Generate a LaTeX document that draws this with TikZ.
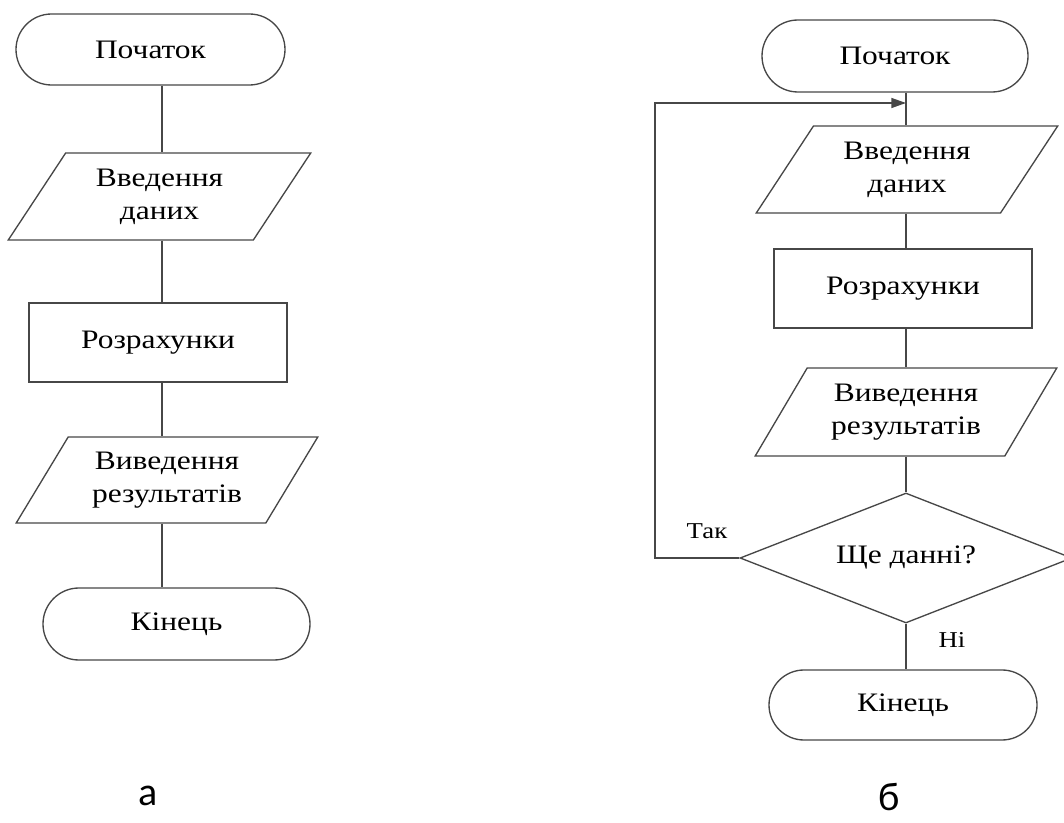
\documentclass[tikz,border=0pt]{standalone}
\usepackage{fontspec}
\setmainfont{Liberation Serif}[FakeStretch=1.18]
\newfontfamily\labelfont{Carlito}
\usetikzlibrary{shapes.geometric,shapes.misc,arrows.meta}

\begin{document}
\begin{tikzpicture}[x=0.75pt,y=-0.75pt,
  every node/.style={font=\fontsize{20}{24.75}\selectfont, align=center, inner sep=0pt},
  shapebox/.style={draw=black!72, line width=1pt},
  term/.style={shapebox, rounded rectangle},
  io/.style={shapebox, trapezium, trapezium left angle=55, trapezium right angle=125, trapezium stretches=true},
  proc/.style={shapebox, rectangle},
  decision/.style={shapebox, diamond, aspect=2.5},
  link/.style={draw=black!72, line width=1pt},
  flag/.style={font=\fontsize{17}{20}\selectfont},
  caption/.style={font=\labelfont\fontsize{30}{32}\selectfont}
]
\fill[white] (0,0) rectangle (1064,823);
\useasboundingbox (0,0) rectangle (1064,823);

% ---- (а) linear algorithm ----
\coordinate (axL) at (162,0);
\node[term, minimum width=201.75pt, minimum height=53.25pt] (s1) at (150.5,49.5) {Початок};
\node[io, minimum width=227.25pt, minimum height=65.25pt] (in1) at (159.5,196.5) {Введення\\даних};
\node[proc, minimum width=193.5pt, minimum height=59.25pt] (calc1) at (158,342.5) {Розрахунки};
\node[io, minimum width=226.5pt, minimum height=64.5pt] (out1) at (167,480) {Виведення\\результатів};
\node[term, minimum width=200.25pt, minimum height=54pt] (e1) at (176.5,624) {Кінець};

\draw[link] (s1.south -| axL) -- (in1.north -| axL);
\draw[link] (in1.south -| axL) -- (calc1.north -| axL);
\draw[link] (calc1.south -| axL) -- (out1.north -| axL);
\draw[link] (out1.south -| axL) -- (e1.north -| axL);

\node[caption] (capa) at (148,796) {а};

% ---- (б) algorithm with a loop ----
\coordinate (axR) at (906,0);
\coordinate (join) at (906,103);
\coordinate (loopx) at (655,0);
\node[term, minimum width=199.5pt, minimum height=54pt] (s2) at (895,56) {Початок};
\node[io, minimum width=226.5pt, minimum height=65.25pt] (in2) at (907,169.5) {Введення\\даних};
\node[proc, minimum width=193.5pt, minimum height=59.25pt] (calc2) at (903,288.5) {Розрахунки};
\node[io, minimum width=226.5pt, minimum height=66pt] (out2) at (906,412) {Виведення\\результатів};
\node[decision, minimum width=249pt, minimum height=97.5pt] (dec) at (906,558) {Ще данні?};
\node[term, minimum width=201pt, minimum height=52.5pt] (e2) at (903,705) {Кінець};

\draw[link] (s2.south -| axR) -- (in2.north -| axR);
\draw[link] (in2.south -| axR) -- (calc2.north -| axR);
\draw[link] (calc2.south -| axR) -- (out2.north -| axR);
\draw[link] (out2.south -| axR) -- (dec.north);
\draw[link] (dec.south) -- (e2.north -| axR);
\draw[link, -{Triangle[length=11pt,width=7.5pt]}] (dec.west) -- (dec.west -| loopx) -- (join -| loopx) -- (join);

\node[flag] (yes) at (707,531) {Так};
\node[flag] (no) at (952,640) {Ні};

\node[caption] (capb) at (889,797) {б};
\end{tikzpicture}
\end{document}
